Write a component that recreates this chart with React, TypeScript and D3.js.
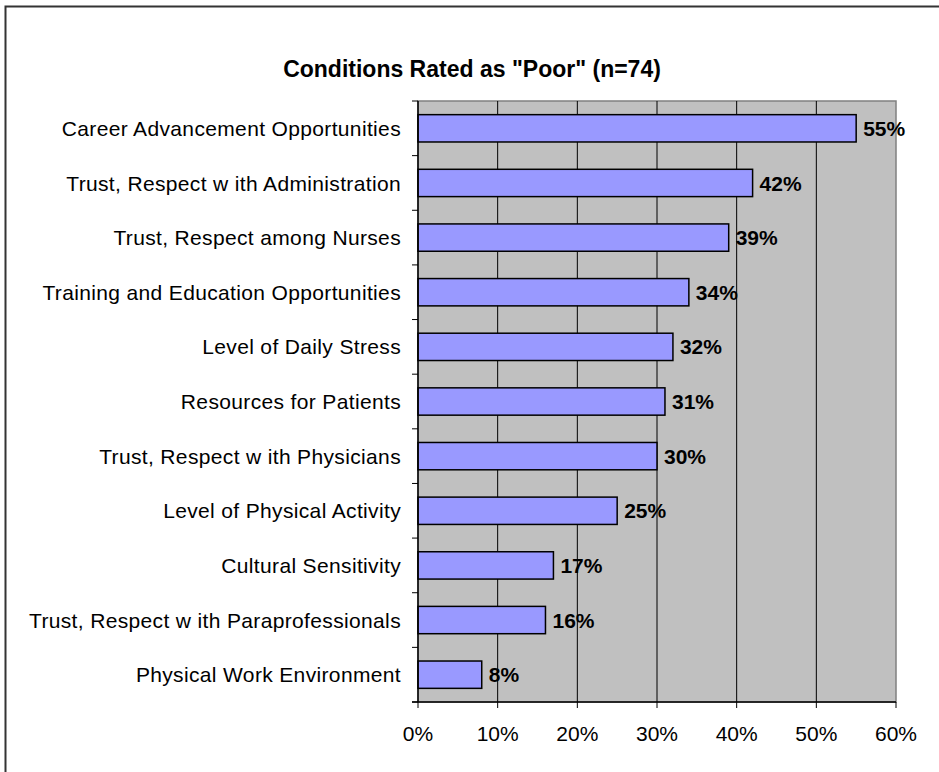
import React from "react";
import * as d3 from "d3";

const categories = [
  "Career Advancement Opportunities",
  "Trust, Respect w ith Administration",
  "Trust, Respect among Nurses",
  "Training and Education Opportunities",
  "Level of Daily Stress",
  "Resources for Patients",
  "Trust, Respect w ith Physicians",
  "Level of Physical Activity",
  "Cultural Sensitivity",
  "Trust, Respect w ith Paraprofessionals",
  "Physical Work Environment",
];
const values = [55, 42, 39, 34, 32, 31, 30, 25, 17, 16, 8];
const xTicks = [0, 10, 20, 30, 40, 50, 60];
const title = 'Conditions Rated as "Poor" (n=74)';

const W = 939;
const H = 772;
const plot = { left: 418, right: 896, top: 101, bottom: 702 };
const FONT = "'Liberation Sans', Arial, sans-serif";

export default function App() {
  const x = d3.scaleLinear().domain([0, 60]).range([plot.left, plot.right]);
  const y = d3
    .scaleBand<string>()
    .domain(categories)
    .range([plot.top, plot.bottom])
    .paddingInner(0.5)
    .paddingOuter(0.25);
  const step = (plot.bottom - plot.top) / categories.length;
  const boundaries = d3.range(categories.length + 1).map((i) => plot.top + i * step);

  return (
    <svg
      width={W}
      height={H}
      style={{ position: "absolute", left: 0, top: 0, display: "block" }}
      fontFamily={FONT}
    >
      <rect x={0} y={0} width={W} height={H} fill="#fff" />
      <rect x={5.5} y={6.5} width={W + 20} height={H + 20} fill="none" stroke="#333" strokeWidth={2} />
      <text x={472} y={77} textAnchor="middle" fontSize={23} fontWeight="bold" fill="#000">
        {title}
      </text>
      <rect
        x={plot.left}
        y={plot.top}
        width={plot.right - plot.left}
        height={plot.bottom - plot.top}
        fill="#C0C0C0"
        stroke="#808080"
        strokeWidth={1.5}
      />
      {xTicks.slice(1, -1).map((t) => (
        <line key={t} x1={x(t)} x2={x(t)} y1={plot.top} y2={plot.bottom} stroke="#000" strokeWidth={1} />
      ))}
      {categories.map((c, i) => (
        <g key={c}>
          <rect
            x={x(0)}
            y={y(c)!}
            width={x(values[i]) - x(0)}
            height={y.bandwidth()}
            fill="#9999FF"
            stroke="#000"
            strokeWidth={1.5}
          />
          <text
            x={x(values[i]) + 7}
            y={y(c)! + y.bandwidth() / 2}
            dy="0.36em"
            fontSize={21}
            fontWeight="bold"
            fill="#000"
          >
            {values[i]}%
          </text>
          <text
            x={401}
            y={y(c)! + y.bandwidth() / 2}
            dy="0.36em"
            textAnchor="end"
            fontSize={21}
            fill="#000"
            letterSpacing={0.35}
          >
            {c}
          </text>
        </g>
      ))}
      <line x1={plot.left} x2={plot.left} y1={plot.top} y2={plot.bottom} stroke="#000" strokeWidth={1.5} />
      {boundaries.map((b, i) => (
        <line key={i} x1={plot.left - 6} x2={plot.left} y1={b} y2={b} stroke="#000" strokeWidth={1} />
      ))}
      <line x1={plot.left - 6} x2={plot.right} y1={plot.bottom} y2={plot.bottom} stroke="#000" strokeWidth={1.5} />
      {xTicks.map((t) => (
        <g key={t}>
          <line x1={x(t)} x2={x(t)} y1={plot.bottom} y2={plot.bottom + 6} stroke="#000" strokeWidth={1} />
          <text x={x(t)} y={741} textAnchor="middle" fontSize={21} fill="#000">
            {t}%
          </text>
        </g>
      ))}
    </svg>
  );
}
